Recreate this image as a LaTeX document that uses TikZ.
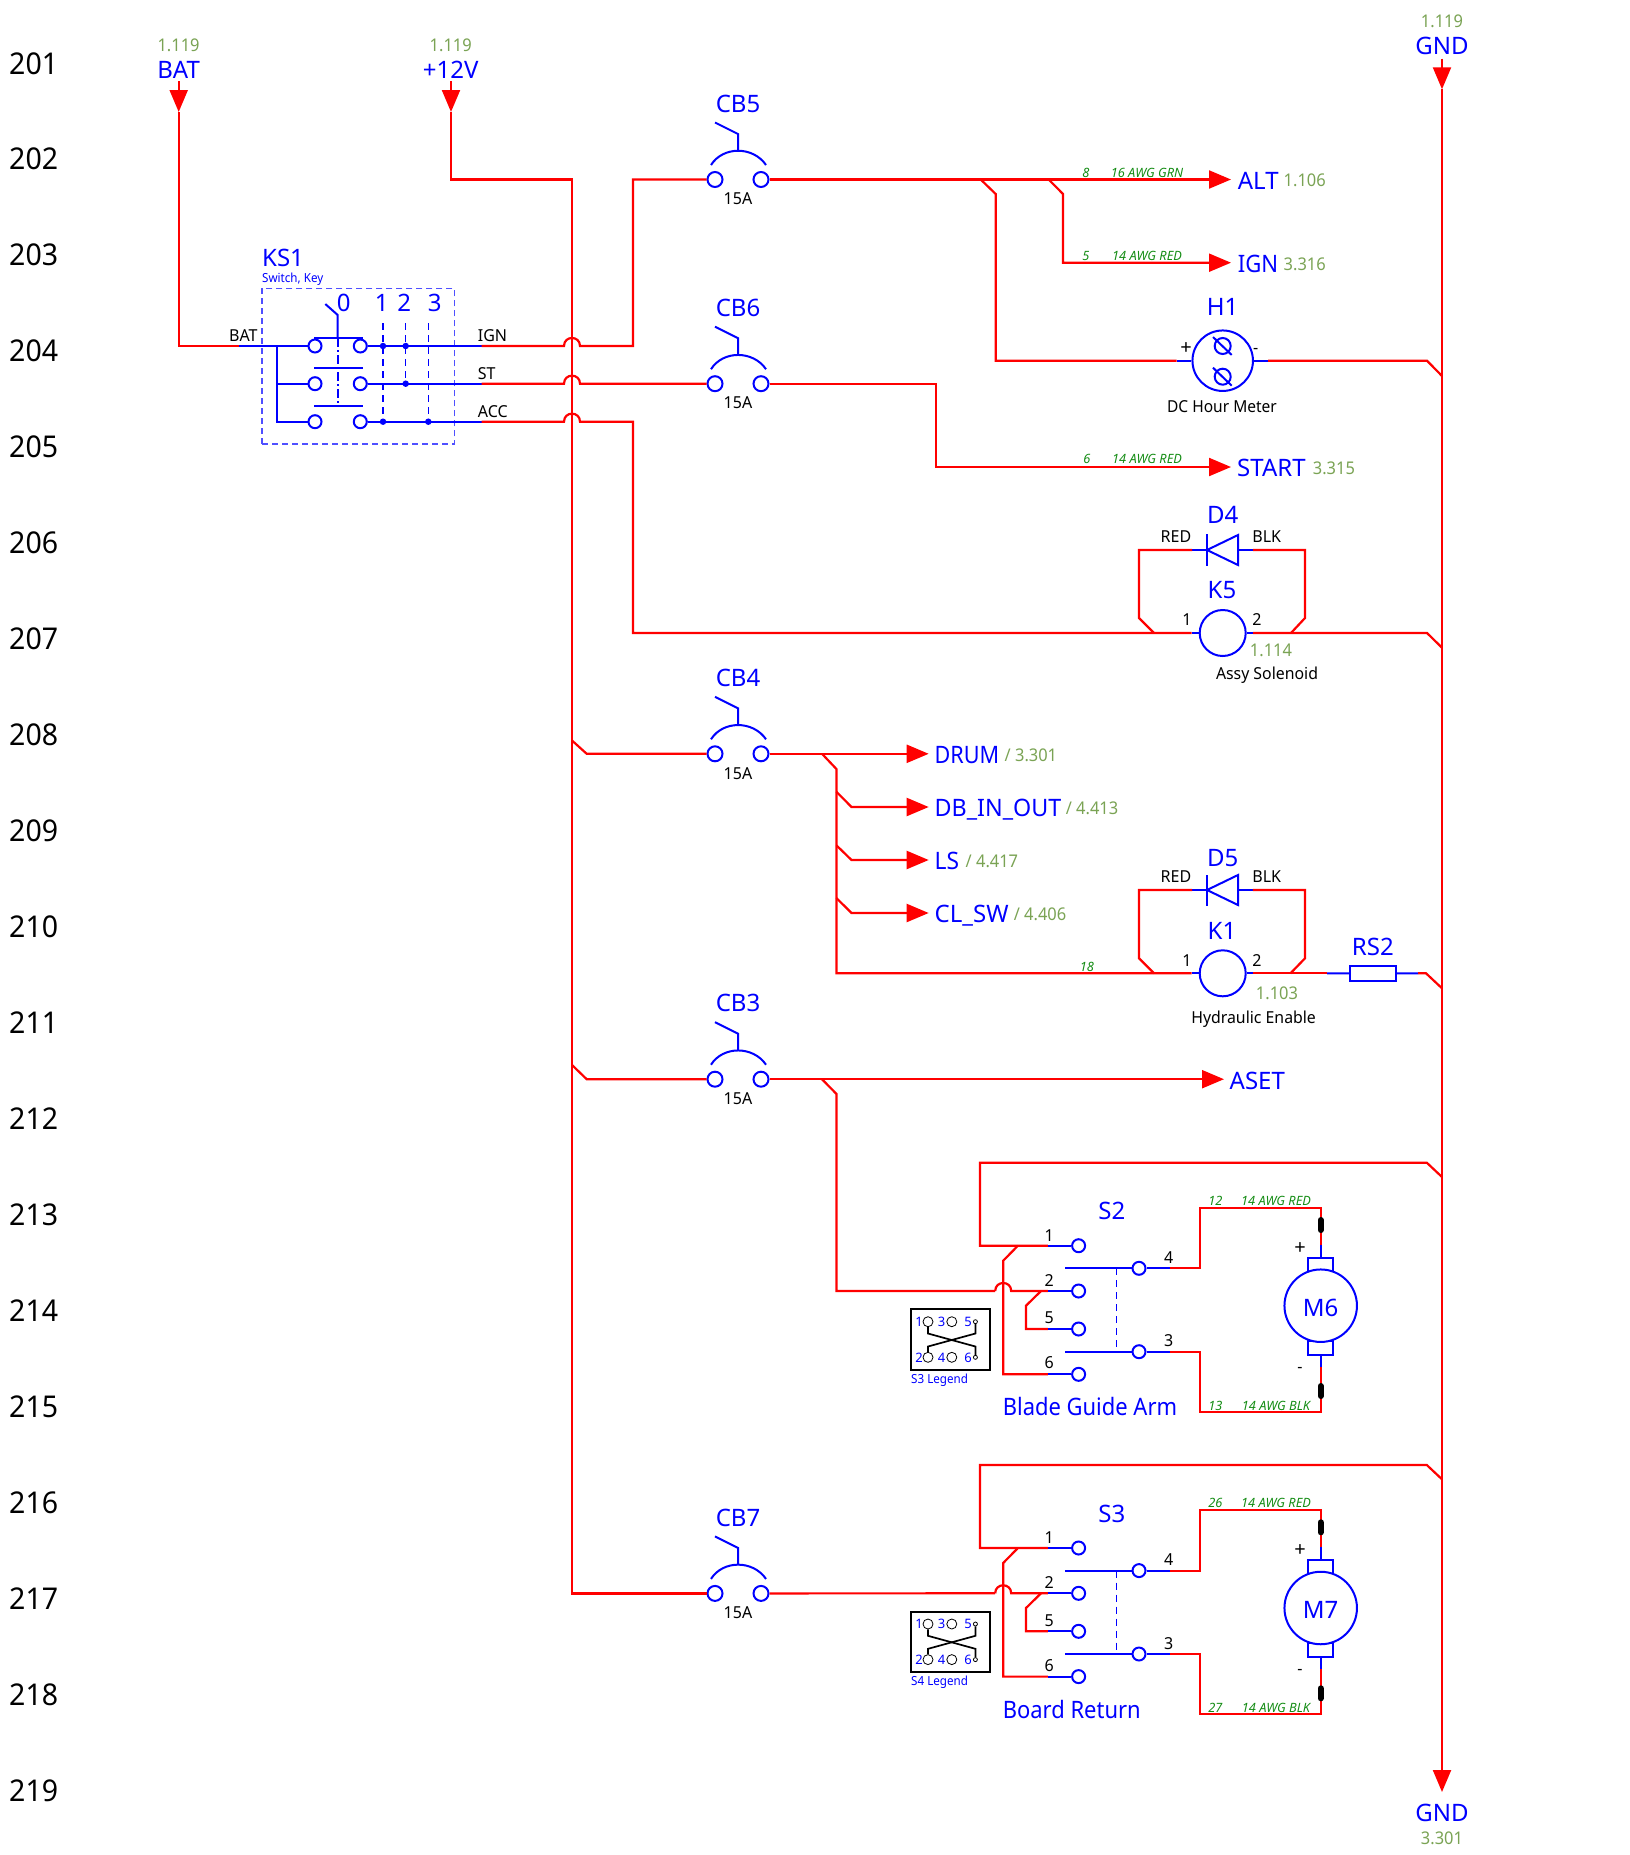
\documentclass[tikz,border=0pt]{standalone}
\usepackage{fontspec}
\usepackage{graphicx}
\setmainfont{Noto Sans}
\newfontfamily\grnf[FakeStretch=0.94]{Noto Sans}
\newfontfamily\midf[FakeStretch=0.97]{Noto Sans}
\newfontfamily\smlf[FakeStretch=0.93]{Noto Sans}
\newfontfamily\rowf[FakeStretch=0.95]{Noto Sans}
\usetikzlibrary{arrows.meta,calc}
\definecolor{refgreen}{RGB}{122,163,84}
\definecolor{wiregreen}{RGB}{20,140,20}
\definecolor{dashblue}{RGB}{80,80,255}
\newcommand\sqz[2]{\scalebox{#1}[1]{#2}}
\tikzset{
  wire/.style={draw=red,line width=2.2pt,line join=miter},
  bw/.style={draw=blue,line width=2pt},
  bthin/.style={draw=blue,line width=1.1pt,dash pattern=on 7pt off 5pt},
  term/.style={circle,draw=blue,line width=2pt,fill=white,inner sep=0pt,minimum size=15pt},
  sterm/.style={circle,draw=blue,line width=2pt,fill=white,inner sep=0pt,minimum size=13pt},
  dotn/.style={circle,fill=blue,inner sep=0pt,minimum size=6.5pt},
  tipr/.style={-{Triangle[length=22pt,width=18pt]}},
  bigl/.style={inner sep=0pt,yshift=-0.7pt,text=blue,font=\fontsize{24}{24}\selectfont,text height=17pt,text depth=0pt},
  midl/.style={inner sep=0pt,text=black,font=\midf\fontsize{16.5}{17}\selectfont,text height=12pt,text depth=0pt},
  plusl/.style={inner sep=0pt,text=black,font=\fontsize{20}{20}\selectfont,text height=14pt,text depth=0pt},
  grn/.style={inner sep=0pt,text=refgreen,font=\grnf\fontsize{17.5}{18}\selectfont,text height=13pt,text depth=0pt},
  wl/.style={inner sep=0pt,text=wiregreen,font=\fontsize{12.8}{13}\selectfont\itshape,text height=9pt,text depth=0pt},
  rown/.style={inner sep=0pt,anchor=west,text=black,font=\rowf\fontsize{30}{30}\selectfont,text height=22pt,text depth=0pt},
  smb/.style={inner sep=0pt,text=blue,font=\smlf\fontsize{12.5}{13}\selectfont,text height=9pt,text depth=0pt},
  leg/.style={inner sep=0pt,text=blue,font=\fontsize{13}{13}\selectfont,text height=9.5pt,text depth=0pt},
  lgc/.style={circle,draw=black,line width=.8pt,inner sep=0pt,minimum size=10pt},
  lgs/.style={circle,draw=black,line width=.8pt,inner sep=0pt,minimum size=4pt},
  lgw/.style={draw=black,line width=1.7pt},
}
% circuit breaker: name, y
\newcommand\cbkr[2]{%
  \node[bigl] (#1t) at (738,#2-76.5) {#1};
  \node[midl] (#1a) at (738,#2+19.2) {15A};
  \node[term] (#1l) at (715,#2) {};
  \node[term] (#1r) at (761,#2) {};
  \draw[bw] (711,#2-14.5) .. controls (723,#2-33.5) and (753,#2-33.5) .. (766,#2-14.5);
  \draw[bw] (738,#2-29) -- (738,#2-45.5) -- (715,#2-57);
}
% switch, motor and legend group: switch, motor, w1, w2, legend, title, y shift
\newcommand\mgroup[7]{%
 \begin{scope}[yshift=-#7pt]
  \node[bigl] (#1t) at (1111.8,1210.7) {#1};
  \node[bigl,anchor=west] (#1n) at (1002.6,1406.7) {\sqz{0.915}{#6}};
  \node[sterm] (#1a) at (1078.6,1245.7) {};
  \node[sterm] (#1b) at (1078.6,1291) {};
  \node[sterm] (#1e) at (1078.6,1329) {};
  \node[sterm] (#1f) at (1078.6,1374.3) {};
  \node[sterm] (#1d) at (1139,1268.3) {};
  \node[sterm] (#1c) at (1139,1351.7) {};
  \node[midl] at (1049.3,1235) {1};
  \node[midl] at (1049.3,1280) {2};
  \node[midl] at (1049.3,1317.7) {5};
  \node[midl] at (1049.3,1362.7) {6};
  \node[midl] at (1168.6,1257) {4};
  \node[midl] at (1168.6,1340.7) {3};
  \coordinate (#1a0) at (1047.9,1245.7);
  \coordinate (#1b0) at (1047.9,1291);
  \coordinate (#1e0) at (1047.9,1329);
  \coordinate (#1f0) at (1047.9,1374.3);
  \coordinate (#1d0) at (1169.6,1268.3);
  \coordinate (#1c0) at (1169.6,1351.7);
  \coordinate (#1in) at (995.2,1291);
  \draw[bw] (#1a0) -- (#1a);
  \draw[bw] (#1b0) -- (#1b);
  \draw[bw] (#1e0) -- (#1e);
  \draw[bw] (#1f0) -- (#1f);
  \draw[bw] (#1d0) -- (#1d) -- (1065.4,1268.3);
  \draw[bw] (#1c0) -- (#1c) -- (1065.4,1351.7);
  \draw[bthin] (1116.4,1268.3) -- (1116.4,1351.7);
  \draw[wire] (1442,1177) -- (1426.8,1162.7) -- (980,1162.7) -- (980,1245.7) -- (#1a0);
  \draw[wire] (1017.9,1245.7) -- (1003.2,1260.7) -- (1003.2,1374.3) -- (#1f0);
  \draw[wire] (#1in) .. controls (995.2,1280.3) and (1011.2,1280.3) .. (1011.2,1291) -- (#1b0);
  \draw[wire] (1041,1291) -- (1026,1305.7) -- (1026,1329) -- (#1e0);
  % motor
  \node[draw=blue,line width=2pt,inner sep=0pt,minimum width=25pt,minimum height=14pt] (#2p) at (1320.7,1264.7) {};
  \node[draw=blue,line width=2pt,inner sep=0pt,minimum width=25pt,minimum height=14pt] (#2m) at (1320.7,1347.7) {};
  \node[circle,draw=blue,line width=2pt,fill=white,inner sep=0pt,minimum size=72.5pt] (#2) at (1320.7,1305.7) {};
  \node[bigl] (#2t) at (1320.7,1307.3) {#2};
  \node[plusl] at (1300,1247.3) {+};
  \node[midl] at (1300,1366) {-};
  \draw[bw] (#2p.north) -- (1320.7,1245);
  \draw[bw] (#2m.south) -- (1320.7,1367);
  \draw[wire] (#1d0) -- (1200,1268.3) -- (1200,1208) -- (1320.7,1208) -- (1320.7,1245);
  \draw[wire] (#1c0) -- (1200,1351.7) -- (1200,1412) -- (1320.7,1412) -- (1320.7,1367);
  \draw[black,line width=6pt,line cap=round] (1320.7,1220) -- (1320.7,1230);
  \draw[black,line width=6pt,line cap=round] (1320.7,1386) -- (1320.7,1396);
  \node[wl] at (1215.4,1200.7) {#3};
  \node[wl] at (1276,1200.7) {14 AWG RED};
  \node[wl] at (1215.4,1405.7) {#4};
  \node[wl] at (1276,1405.7) {14 AWG BLK};
  % legend
  \node[draw=black,line width=2pt,inner sep=0pt,minimum width=79.3pt,minimum height=60.7pt] (#1leg) at (950.3,1339.6) {};
  \node[smb,anchor=west] at (911,1378.7) {#5};
  \node[lgc] (#1q1) at (928,1321.7) {};
  \node[lgc] (#1q3) at (951.8,1321.7) {};
  \node[lgs] (#1q5) at (975.4,1321.7) {};
  \node[lgc] (#1q2) at (928,1357.3) {};
  \node[lgc] (#1q4) at (951.8,1357.3) {};
  \node[lgs] (#1q6) at (975.4,1357.3) {};
  \node[leg] at (919,1321.7) {1};
  \node[leg] at (941.7,1321.7) {3};
  \node[leg] at (968,1321.7) {5};
  \node[leg] at (919,1357.3) {2};
  \node[leg] at (941.7,1357.3) {4};
  \node[leg] at (968,1357.3) {6};
  \draw[lgw] (#1q1) -- (928,1333.5) -- (975.4,1346.5) -- (#1q6);
  \draw[lgw] (#1q5) -- (975.4,1333.5) -- (928,1346.5) -- (#1q2);
 \end{scope}
}
\begin{document}
\begin{tikzpicture}[x=1pt,y=-1pt]
\useasboundingbox (0,0) rectangle (1630,1855);
% row numbers
\foreach \i [evaluate=\i as \yy using 63+95.95*\i, evaluate=\i as \nn using int(201+\i)] in {0,...,18}
  \node[rown] (row\nn) at (9,\yy) {\nn};

% top signals
\node[grn] (bat1) at (178.6,44.5) {1.119};
\node[bigl] (batl) at (178.6,69) {BAT};
\node[grn] (v1) at (450.7,44.5) {1.119};
\node[bigl] (vl) at (450.7,69) {+12V};
\node[grn] (g1) at (1442,21) {1.119};
\node[bigl] (gl) at (1442,45.5) {GND};
\node[bigl] (gb) at (1442,1812) {GND};
\node[grn] (gb1) at (1442,1837.5) {3.301};
\coordinate (batA) at (178.7,81);
\coordinate (batT) at (178.7,112);
\coordinate (vA) at (451,81);
\coordinate (vT) at (451,112);
\coordinate (gA) at (1442,58.5);
\coordinate (gT) at (1442,89.3);
\coordinate (gE) at (1442,1792);

% KS1
\node[bigl,anchor=west] (ks1) at (262,257) {KS1};
\node[smb,anchor=west] (ks1s) at (262,277.7) {Switch, Key};
\node[draw=dashblue,line width=1.3pt,dash pattern=on 6pt off 4pt,inner sep=0pt,minimum width=192.3pt,minimum height=155.7pt] (ksbox) at (358.15,366.15) {};
\node[sterm] (k1l) at (315,346) {};
\node[sterm] (k1r) at (360.3,346) {};
\node[sterm] (k2l) at (315,383.7) {};
\node[sterm] (k2r) at (360.3,383.7) {};
\node[sterm] (k3l) at (315,421.7) {};
\node[sterm] (k3r) at (360.3,421.7) {};
\coordinate (kbat) at (239,346);
\coordinate (kj) at (277,346);
\coordinate (kign) at (481.7,346);
\coordinate (kst) at (481.7,383.7);
\coordinate (kacc) at (481.7,421.7);
\draw[bw] (kbat) -- (k1l);
\draw[bw] (kj) |- (k3l);
\draw[bw] (kj |- k2l) -- (k2l);
\draw[bw] (k1r) -- (kign);
\draw[bw] (k2r) -- (kst);
\draw[bw] (k3r) -- (kacc);
\draw[bw] (314.3,338.3) -- (363.3,338.3);
\draw[bw] (314.3,368.3) -- (363.3,368.3);
\draw[bw] (314.3,406) -- (363.3,406);
\draw[bw] (337.7,338.3) -- (337.7,315) -- (325.3,304);
\draw[draw=blue,line width=1.6pt,dash pattern=on 9pt off 3pt on 2pt off 3pt] (337.7,338.3) -- (337.7,406);
\node[dotn] (d1) at (383,346) {};
\node[dotn] (d2) at (405.7,346) {};
\node[dotn] (d3) at (405.7,383.7) {};
\node[dotn] (d4) at (383,421.7) {};
\node[dotn] (d5) at (428.3,421.7) {};
\draw[bthin] (383,323.3) -- (d4);
\draw[bthin] (405.7,323.3) -- (d3);
\draw[bthin] (428.3,323.3) -- (d5);
\node[bigl] (n0) at (343.7,302.7) {0};
\node[bigl] (n1) at (381.7,302.7) {1};
\node[bigl] (n2) at (404.3,302.7) {2};
\node[bigl] (n3) at (434.7,302.7) {3};
\node[midl] (kb) at (243.3,335) {BAT};
\node[midl,anchor=west] (ki) at (477.7,335) {IGN};
\node[midl,anchor=west] (ks) at (477.7,373.3) {ST};
\node[midl,anchor=west] (ka) at (477.7,411) {ACC};

% breakers
\cbkr{CB5}{179.5}
\cbkr{CB6}{383.7}
\cbkr{CB4}{753.8}
\cbkr{CB3}{1079.2}
\cbkr{CB7}{1593.4}

% bus and feeders
\draw[wire] (vT) |- (572,179.5) -- (572,1593.4) -- (CB7l);
\draw[wire,tipr] (vA) -- (vT);
\draw[wire,tipr] (batA) -- (batT);
\draw[wire] (batT) |- (kbat);
\draw[wire,tipr] (gA) -- (gT);
\draw[wire,tipr] (gT) -- (gE);
\draw[wire] (kign) -- (564,346) .. controls (564,335.3) and (580,335.3) .. (580,346) -- (633,346) |- (CB5l);
\draw[wire] (kst) -- (564,383.7) .. controls (564,373) and (580,373) .. (580,383.7) -- (CB6l);
\draw[wire] (kacc) -- (564,421.7) .. controls (564,411) and (580,411) .. (580,421.7) -- (633,421.7) -- (633,633) -- (1191.7,633);
\draw[wire] (572,740.5) -- (586.7,753.8) -- (CB4l);
\draw[wire] (572,1065) -- (586.7,1079.2) -- (CB3l);

% ALT / IGN / H1
\coordinate (altT) at (1231,179.5);
\coordinate (ignT) at (1231,262.7);
\coordinate (startT) at (1231,467);
\draw[wire,tipr] (CB5r) -- (altT);
\draw[wire] (980.7,179.5) -- (995.7,194) -- (995.7,360.7) -- (1176.7,360.7);
\draw[wire,tipr] (1048.7,179.5) -- (1063,194) -- (1063,262.7) -- (ignT);
\node[bigl,anchor=west] (alt) at (1237.6,180) {ALT};
\node[grn,anchor=west] (alt1) at (1283.5,180) {1.106};
\node[bigl,anchor=west] (ign) at (1237.6,263.5) {\sqz{0.92}{IGN}};
\node[grn,anchor=west] (ign1) at (1283.5,263.5) {3.316};
\node[wl] at (1086,172.7) {8};
\node[wl] at (1147,172.7) {16 AWG GRN};
\node[wl] at (1086,255.5) {5};
\node[wl] at (1147,255.5) {14 AWG RED};
\node[wl] at (1087,459) {6};
\node[wl] at (1147,459) {14 AWG RED};

% H1
\node[circle,draw=blue,line width=2pt,inner sep=0pt,minimum size=60.5pt] (h1) at (1222.7,360.7) {};
\node[circle,draw=blue,line width=2pt,inner sep=0pt,minimum size=16pt] (h1a) at (1222.7,346) {};
\node[circle,draw=blue,line width=2pt,inner sep=0pt,minimum size=16pt] (h1b) at (1222.7,376.7) {};
\draw[bw] (1213,337) -- (1231.7,355);
\draw[bw] (1213,367.7) -- (1231.7,385.7);
\coordinate (h1w) at (1176.7,360.7);
\coordinate (h1e) at (1268,360.7);
\draw[bw] (h1w) -- (h1);
\draw[bw] (h1) -- (h1e);
\draw[wire] (h1e) -- (1427,360.7) -- (1442,376);
\node[bigl] (h1t) at (1222.7,306.7) {H1};
\node[plusl] at (1186,347) {+};
\node[midl] at (1255.7,347) {-};
\node[midl] (h1n) at (1222,406) {\sqz{0.97}{DC Hour Meter}};

% START
\draw[wire,tipr] (CB6r) -- (935.7,383.7) -- (935.7,467) -- (startT);
\node[bigl,anchor=west] (st) at (1237,467.5) {START};
\node[grn,anchor=west] (st1) at (1312.7,467.5) {3.315};

% K5 / D4
\node[circle,draw=blue,line width=2pt,inner sep=0pt,minimum size=46pt] (k5) at (1222.7,633) {};
\coordinate (k5w) at (1191.7,633);
\coordinate (k5e) at (1253,633);
\draw[bw] (k5w) -- (k5);
\draw[bw] (k5) -- (k5e);
\coordinate (d4w) at (1192,550);
\coordinate (d4e) at (1253,550);
\draw[bw] (d4w) -- (1207,550);
\draw[bw] (1238,550) -- (d4e);
\draw[bw] (1207,534) -- (1207,566);
\draw[bw,line join=miter] (1207,550) -- (1238,535) -- (1238,565) -- cycle;
\draw[wire] (1154,633) -- (1139,618) -- (1139,550) -- (d4w);
\draw[wire] (d4e) -- (1305,550) -- (1305,618) -- (1291,633);
\draw[wire] (k5e) -- (1427,633) -- (1442,647.7);
\node[bigl] (d4t) at (1222.7,514.5) {D4};
\node[midl] at (1176,536) {RED};
\node[midl] at (1266.7,536) {BLK};
\node[bigl] (k5t) at (1222,589.5) {K5};
\node[midl] at (1187,619) {1};
\node[midl] at (1257,619) {2};
\node[grn] (k51) at (1271,650) {1.114};
\node[midl] (k5n) at (1267,673.2) {\sqz{0.99}{Assy Solenoid}};

% CB4 branch
\coordinate (drumT) at (928.7,753.8);
\coordinate (dbT) at (928.7,807);
\coordinate (lsT) at (928.7,860);
\coordinate (clT) at (928.7,913);
\draw[wire,tipr] (CB4r) -- (drumT);
\draw[wire] (822,753.8) -- (836.4,769) -- (836.4,973.3) -- (1191.7,973.3);
\draw[wire,tipr] (836.4,791.7) -- (851.5,807) -- (dbT);
\draw[wire,tipr] (836.4,845.3) -- (851.5,860) -- (lsT);
\draw[wire,tipr] (836.4,898) -- (851.5,913) -- (clT);
\node[bigl,anchor=west] (drum) at (934.5,754.5) {\sqz{0.9}{DRUM}};
\node[grn,anchor=west] (drum1) at (1004.5,754.5) {/ 3.301};
\node[bigl,anchor=west] (db) at (934.5,807.5) {\sqz{0.97}{DB\_IN\_OUT}};
\node[grn,anchor=west] (db1) at (1065.6,807.5) {/ 4.413};
\node[bigl,anchor=west] (ls) at (934.5,860.5) {\sqz{0.95}{LS}};
\node[grn,anchor=west] (ls1) at (965.5,860.5) {/ 4.417};
\node[bigl,anchor=west] (cl) at (934.5,913.5) {CL\_SW};
\node[grn,anchor=west] (cl1) at (1013.6,913.5) {/ 4.406};
\node[wl] at (1086.8,966.7) {18};

% K1 / D5 / RS2
\node[circle,draw=blue,line width=2pt,inner sep=0pt,minimum size=46pt] (k1) at (1222.7,973.3) {};
\coordinate (k1w) at (1191.7,973.3);
\coordinate (k1e) at (1252.8,973.3);
\draw[bw] (k1w) -- (k1);
\draw[bw] (k1) -- (k1e);
\coordinate (d5w) at (1192,890);
\coordinate (d5e) at (1252.8,890);
\draw[bw] (d5w) -- (1207,890);
\draw[bw] (1238,890) -- (d5e);
\draw[bw] (1207,875) -- (1207,906);
\draw[bw,line join=miter] (1207,890) -- (1238,875) -- (1238,905) -- cycle;
\draw[wire] (1154,973.3) -- (1139,958.3) -- (1139,890) -- (d5w);
\draw[wire] (d5e) -- (1305,890) -- (1305,958.3) -- (1290.5,973.3);
\node[draw=blue,line width=2pt,inner sep=0pt,minimum width=45.8pt,minimum height=15.6pt] (rs2) at (1372.9,973.5) {};
\coordinate (rsw) at (1327,973.3);
\coordinate (rse) at (1418,973.3);
\draw[bw] (rsw) -- (rs2);
\draw[bw] (rs2) -- (rse);
\draw[wire] (k1e) -- (rsw);
\draw[wire] (rse) -- (1426,973.3) -- (1442,988.3);
\node[bigl] (d5t) at (1222.7,857.5) {D5};
\node[midl] at (1176,876) {RED};
\node[midl] at (1266.7,876) {BLK};
\node[bigl] (k1t) at (1222,930.5) {K1};
\node[midl] at (1187,960) {1};
\node[midl] at (1257,960) {2};
\node[grn] (k11) at (1277,993) {1.103};
\node[midl] (k1n) at (1253.6,1017.2) {\sqz{0.99}{Hydraulic Enable}};
\node[bigl] (rs2t) at (1372.8,946.7) {RS2};

% CB3
\coordinate (asetT) at (1224,1079.2);
\draw[wire,tipr] (CB3r) -- (asetT);
\node[bigl,anchor=west] (aset) at (1229.5,1080) {ASET};

% switch groups
\mgroup{S2}{M6}{12}{13}{S3 Legend}{Blade Guide Arm}{0}
\mgroup{S3}{M7}{26}{27}{S4 Legend}{Board Return}{302.3}
\draw[wire] (822,1079.2) -- (836.5,1094) |- (S2in);
\draw[wire] (CB7r) -- (S3in);
\end{tikzpicture}
\end{document}
